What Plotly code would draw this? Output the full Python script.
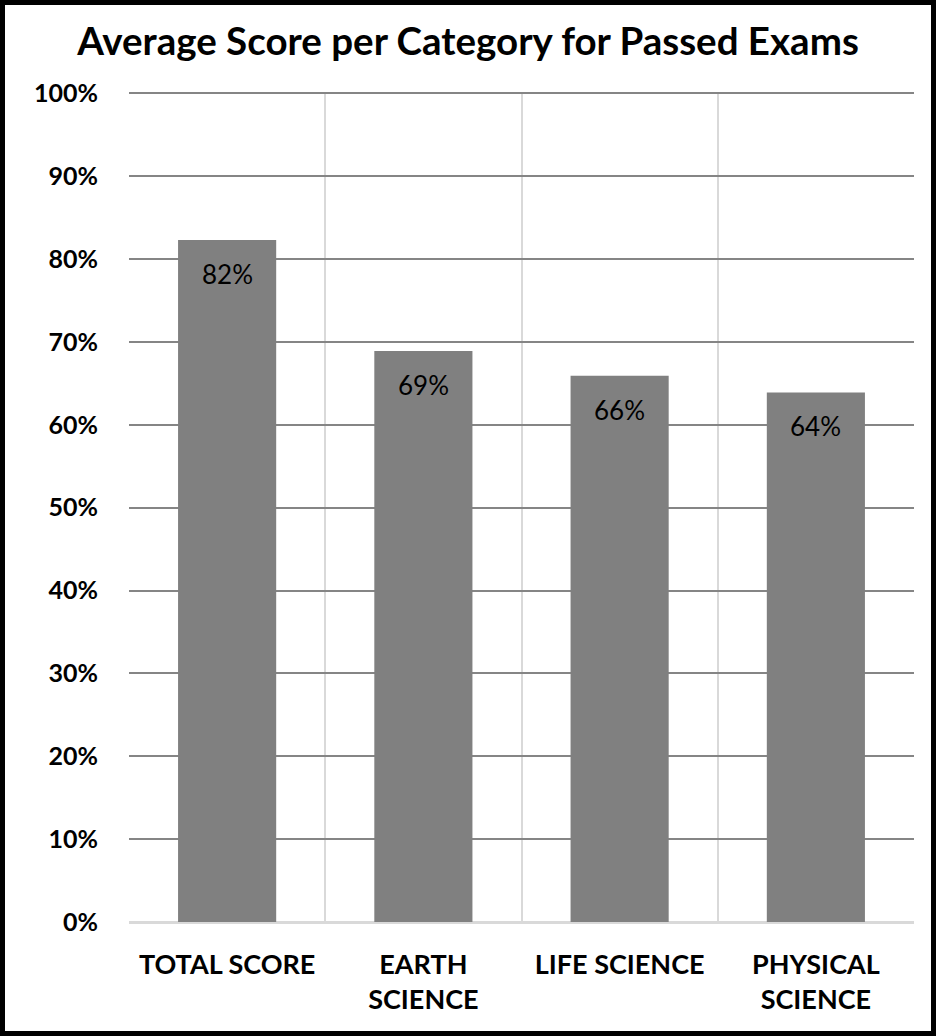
import plotly.graph_objects as go

categories = ["TOTAL SCORE", "EARTH<br>SCIENCE", "LIFE SCIENCE", "PHYSICAL<br>SCIENCE"]
scores = [0.823, 0.689, 0.659, 0.639]
labels = ["82%", "69%", "66%", "64%"]
tick_vals = [0, 0.1, 0.2, 0.3, 0.4, 0.5, 0.6, 0.7, 0.8, 0.9, 1.0]

W, H = 936, 1036
ml, mr, mt, mb = 129, 22, 92, 114
pw, ph = W - ml - mr, H - mt - mb

fig = go.Figure(go.Bar(
    x=categories, y=scores,
    marker=dict(color="#808080", line=dict(width=0)),
    width=0.5,
))

for c, s, t in zip(categories, scores, labels):
    fig.add_annotation(x=c, y=s, text=t, showarrow=False, yanchor="top", yshift=-16,
                       font=dict(family="Lato", size=26, color="black"))

def px_to_paper_x(p):
    return (p - ml) / pw

def px_to_paper_y(p):
    return (H - mb - p) / ph

fig.update_layout(
    width=W, height=H,
    margin=dict(l=ml, r=mr, t=mt, b=mb),
    paper_bgcolor="white", plot_bgcolor="white",
    showlegend=False,
    title=dict(text="Average Score per Category for Passed Exams",
               x=0.5, xanchor="center", y=1 - 42 / H, yanchor="middle",
               font=dict(family="Lato", size=38.5, color="black", weight="bold")),
    xaxis=dict(tickson="boundaries", showgrid=True, gridcolor="#d9d9d9", gridwidth=2,
               ticks="", ticklabelstandoff=24,
               tickfont=dict(family="Lato", size=27, color="black", weight="bold"),
               showline=False),
    yaxis=dict(range=[0, 1.0015], tickvals=tick_vals, tickformat=".0%",
               showgrid=True, gridcolor="#858585", gridwidth=2,
               zeroline=True, zerolinecolor="#d9d9d9", zerolinewidth=3,
               ticks="", ticklabelstandoff=30,
               tickfont=dict(family="Lato", size=25, color="black", weight="bold"),
               showline=False),
    shapes=[dict(type="rect", xref="paper", yref="paper",
                 x0=px_to_paper_x(2.5), x1=px_to_paper_x(W - 2.5),
                 y0=px_to_paper_y(H - 2.5), y1=px_to_paper_y(2.5),
                 line=dict(color="black", width=5), fillcolor="rgba(0,0,0,0)",
                 layer="above")],
)

fig.write_html("out.html", config={"displayModeBar": False},
               post_script="document.body.style.margin='0';document.body.style.overflow='hidden';")
